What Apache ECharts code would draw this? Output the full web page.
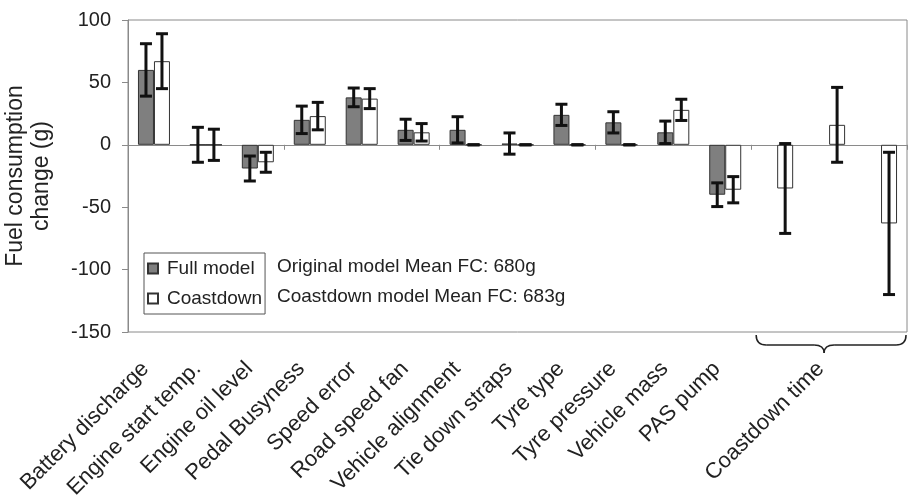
<!DOCTYPE html>
<html>
<head>
<meta charset="utf-8">
<script src="https://cdn.jsdelivr.net/npm/echarts@6/dist/echarts.min.js"></script>
<style>
  body { margin: 0; background: #fff; }
  #chart { width: 908px; height: 496px; }
</style>
</head>
<body>
<div id="chart"></div>
<script>
// categories (the last three slots are the coastdown time variants)
const categories = [
  "Battery discharge", "Engine start temp.", "Engine oil level", "Pedal Busyness",
  "Speed error", "Road speed fan", "Vehicle alignment", "Tie down straps",
  "Tyre type", "Tyre pressure", "Vehicle mass", "PAS pump",
  "", "Coastdown time", ""
];
const fullModel = [60, 0, -19, 20, 38, 12, 12, 1, 24, 18, 10, -40, null, null, null];
const fullErr = [21, 14, 10, 11, 7.5, 8.5, 10.5, 8.5, 8.5, 8.5, 9, 9.5, null, null, null];
const coastdown = [67, 0, -14, 23, 37, 10, 0, 0, 0, 0, 28, -36, -35, 16, -63];
const coastErr = [22, 12.5, 8, 11, 8, 7, 0, 0, 0, 0, 8.5, 10.5, 36, 30, 57];
const yTicks = [-150, -100, -50, 0, 50, 100];

const FONT = "'Liberation Sans', Arial, sans-serif";
const BAR_W = 16;

function errData(vals, errs) {
  return vals.map((v, i) => (v == null ? null : [i, v, errs[i]])).filter(Boolean);
}

function errRender(offset) {
  return function (params, api) {
    const x = api.value(0), v = api.value(1), e = api.value(2);
    const top = api.coord([x, v + e]);
    const bot = api.coord([x, v - e]);
    const cx = top[0] + offset;
    const st = { stroke: "#111", lineWidth: 3 };
    return {
      type: "group",
      children: [
        { type: "line", shape: { x1: cx, y1: top[1], x2: cx, y2: bot[1] }, style: st },
        { type: "line", shape: { x1: cx - 6, y1: top[1], x2: cx + 6, y2: top[1] }, style: st },
        { type: "line", shape: { x1: cx - 6, y1: bot[1], x2: cx + 6, y2: bot[1] }, style: st }
      ]
    };
  };
}

const chart = echarts.init(document.getElementById("chart"));

chart.setOption({
  animation: false,
  backgroundColor: "#fff",
  textStyle: { fontFamily: FONT },
  grid: {
    left: 128, right: 1, top: 20, bottom: 164,
    outerBoundsMode: "none",
    show: true, borderColor: "#8a8a8a", borderWidth: 1
  },
  legend: {
    orient: "vertical",
    left: 144, top: 253,
    data: ["Full model", "Coastdown"],
    icon: "rect",
    itemWidth: 10, itemHeight: 10, itemGap: 11,
    padding: [6, 3, 6, 3],
    borderColor: "#555", borderWidth: 1,
    textStyle: { fontSize: 19, color: "#222", fontFamily: FONT, padding: [0, 0, 0, 4] }
  },
  xAxis: [
    {
      type: "category",
      data: categories,
      position: "bottom",
      axisLine: { show: false, onZero: false },
      axisTick: { show: false },
      axisLabel: {
        interval: 0, rotate: 45, margin: 25,
        fontSize: 22, color: "#222", fontFamily: FONT,
        padding: [0, 12, 6, 0]
      }
    },
    {
      type: "category",
      data: categories,
      position: "bottom",
      axisLine: { show: true, onZero: true, lineStyle: { color: "#8a8a8a", width: 1 } },
      axisTick: { show: true, length: 5, lineStyle: { color: "#8a8a8a" } },
      axisLabel: { show: false }
    }
  ],
  yAxis: {
    type: "value",
    min: yTicks[0], max: yTicks[yTicks.length - 1], interval: 50,
    name: "Fuel consumption\nchange (g)",
    nameLocation: "middle",
    nameGap: 73,
    nameTextStyle: { fontSize: 23, lineHeight: 26, color: "#222", fontFamily: FONT },
    axisLine: { show: true, lineStyle: { color: "#8a8a8a" } },
    axisTick: { show: true, length: 6, lineStyle: { color: "#8a8a8a" } },
    splitLine: { show: false },
    axisLabel: { fontSize: 20, color: "#222", margin: 17, fontFamily: FONT }
  },
  series: [
    {
      name: "Full model",
      type: "bar",
      xAxisIndex: 0,
      barWidth: BAR_W,
      barGap: "0%",
      data: fullModel,
      itemStyle: { color: "#7f7f7f", borderColor: "#333", borderWidth: 1 }
    },
    {
      name: "Coastdown",
      type: "bar",
      xAxisIndex: 0,
      barWidth: BAR_W,
      barGap: "0%",
      data: coastdown,
      itemStyle: { color: "#ffffff", borderColor: "#333", borderWidth: 1 }
    },
    {
      name: "fullErr",
      type: "custom",
      xAxisIndex: 0,
      z: 5,
      renderItem: errRender(-BAR_W / 2),
      encode: { x: 0, y: 1 },
      data: errData(fullModel, fullErr)
    },
    {
      name: "coastErr",
      type: "custom",
      xAxisIndex: 0,
      z: 5,
      renderItem: errRender(BAR_W / 2),
      encode: { x: 0, y: 1 },
      data: errData(coastdown, coastErr)
    }
  ]
});

// annotation text and the brace under the coastdown time group
const yBase = chart.convertToPixel({ yAxisIndex: 0 }, yTicks[0]);
const half = 26;
const xa = chart.convertToPixel({ xAxisIndex: 0 }, 12) - half + 5;
const xb = chart.convertToPixel({ xAxisIndex: 0 }, 14) + half - 1;
const xm = (xa + xb) / 2 - 7;
const y0 = yBase + 3, y1 = yBase + 13, y2 = yBase + 21, r = 10;
const braceStyle = { stroke: "#222", lineWidth: 1.5, fill: null };

function curve(x1, yA, cx, cy, x2, yB) {
  return { type: "bezierCurve", shape: { x1: x1, y1: yA, cpx1: cx, cpy1: cy, x2: x2, y2: yB }, style: braceStyle };
}
function seg(x1, yA, x2, yB) {
  return { type: "line", shape: { x1: x1, y1: yA, x2: x2, y2: yB }, style: braceStyle };
}

chart.setOption({
  graphic: [
    {
      type: "text", left: 277, top: 257,
      style: { text: "Original model Mean FC: 680g", fontSize: 19, fill: "#222", fontFamily: FONT }
    },
    {
      type: "text", left: 277, top: 287,
      style: { text: "Coastdown model Mean FC: 683g", fontSize: 19, fill: "#222", fontFamily: FONT }
    },
    curve(xa, y0, xa, y1, xa + r, y1),
    seg(xa + r, y1, xm - r, y1),
    curve(xm - r, y1, xm, y1, xm, y2),
    curve(xm, y2, xm, y1, xm + r, y1),
    seg(xm + r, y1, xb - r, y1),
    curve(xb - r, y1, xb, y1, xb, y0)
  ]
});
</script>
</body>
</html>
